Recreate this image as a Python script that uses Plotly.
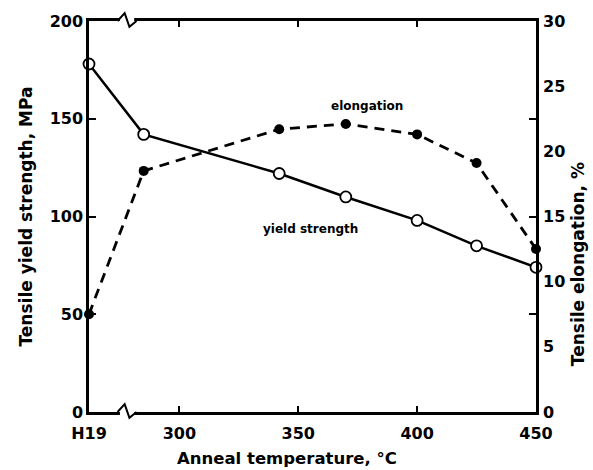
import plotly.graph_objects as go

# Data (H19 = as-received temper, placed left of the axis break)
x_pos_h19 = 262
temps = [x_pos_h19, 285, 342, 370, 400, 425, 450]
x_tick_vals = [x_pos_h19, 300, 350, 400, 450]
x_tick_text = ["H19", "300", "350", "400", "450"]
yield_strength = [178, 142, 122, 110, 98, 85, 74]   # MPa
elongation = [7.5, 18.5, 21.7, 22.1, 21.3, 19.1, 12.5]  # %

font_family = "DejaVu Sans, Liberation Sans, sans-serif"

fig = go.Figure()
fig.add_trace(go.Scatter(
    x=temps, y=elongation, yaxis="y2", mode="lines+markers",
    line=dict(color="black", width=2.8, dash="10px,7px"),
    marker=dict(symbol="circle", size=10, color="black"),
    showlegend=False, cliponaxis=False))
fig.add_trace(go.Scatter(
    x=temps, y=yield_strength, mode="lines+markers",
    line=dict(color="black", width=2.5),
    marker=dict(symbol="circle", size=11, color="white",
                line=dict(color="black", width=1.8)),
    showlegend=False, cliponaxis=False))

# axis-break zigzags on top and bottom axes
brk_x = 277
for yb in (0, 1):
    fig.add_shape(type="rect", xref="x", yref="paper", x0=brk_x - 2, x1=brk_x + 4,
                  y0=yb - 0.008, y1=yb + 0.008, fillcolor="white", line=dict(width=0),
                  layer="above")
    fig.add_shape(type="path", xref="x", yref="paper",
                  path=f"M {brk_x-3},{yb} L {brk_x},{yb+0.02} L {brk_x+2},{yb-0.015} L {brk_x+5},{yb}",
                  line=dict(color="black", width=2), layer="above")

fig.add_annotation(x=379, y=23.5, yref="y2", text="<b>elongation</b>", showarrow=False,
                   font=dict(family=font_family, size=12, color="black"))
fig.add_annotation(x=355, y=93.5, text="<b>yield strength</b>", showarrow=False,
                   font=dict(family=font_family, size=12, color="black"))

# axis titles
fig.add_annotation(xref="paper", yref="paper", x=0, y=0.5, xshift=-64, textangle=-90,
                   text="<b>Tensile yield strength, MPa</b>", showarrow=False,
                   xanchor="center", yanchor="middle",
                   font=dict(family=font_family, size=17, color="black"))
fig.add_annotation(xref="paper", yref="paper", x=1, y=0.378, xshift=42, textangle=-90,
                   text="<b>Tensile elongation, %</b>", showarrow=False,
                   xanchor="center", yanchor="middle",
                   font=dict(family=font_family, size=17, color="black"))
fig.add_annotation(xref="paper", yref="paper", x=0.443, y=0, yshift=-46,
                   text="<b>Anneal temperature, °C</b>", showarrow=False,
                   xanchor="center", yanchor="middle",
                   font=dict(family=font_family, size=16.5, color="black"))

fig.update_layout(
    width=593, height=470,
    margin=dict(l=89, r=57, t=18, b=58),
    paper_bgcolor="white", plot_bgcolor="white",
    font=dict(family=font_family, color="black"),
    xaxis=dict(range=[x_pos_h19, 450], tickmode="array", tickvals=x_tick_vals,
               ticktext=[f"<b>{t}</b>" for t in x_tick_text],
               ticks="inside", ticklen=6, tickwidth=1.5, tickcolor="black",
               showline=True, linecolor="black", linewidth=2.5, mirror="ticks",
               showgrid=False, zeroline=False, ticklabelstandoff=5,
               tickfont=dict(size=16)),
    yaxis=dict(range=[0, 200], tickvals=[0, 50, 100, 150, 200],
               ticktext=["<b>0</b>", "<b>50</b>", "<b>100</b>", "<b>150</b>", "<b>200</b>"],
               ticks="inside", ticklen=7, tickwidth=1.5, tickcolor="black",
               showline=True, linecolor="black", linewidth=2.5, mirror="ticks",
               showgrid=False, zeroline=False, tickfont=dict(size=16)),
    yaxis2=dict(range=[0, 30], overlaying="y", side="right",
                tickvals=[0, 5, 10, 15, 20, 25, 30],
                ticktext=[f"<b>{v}</b>" for v in [0, 5, 10, 15, 20, 25, 30]],
                ticks="", showline=False, showgrid=False, zeroline=False,
                ticklabelstandoff=6, tickfont=dict(size=16)),
)

fig.write_html("out.html")
